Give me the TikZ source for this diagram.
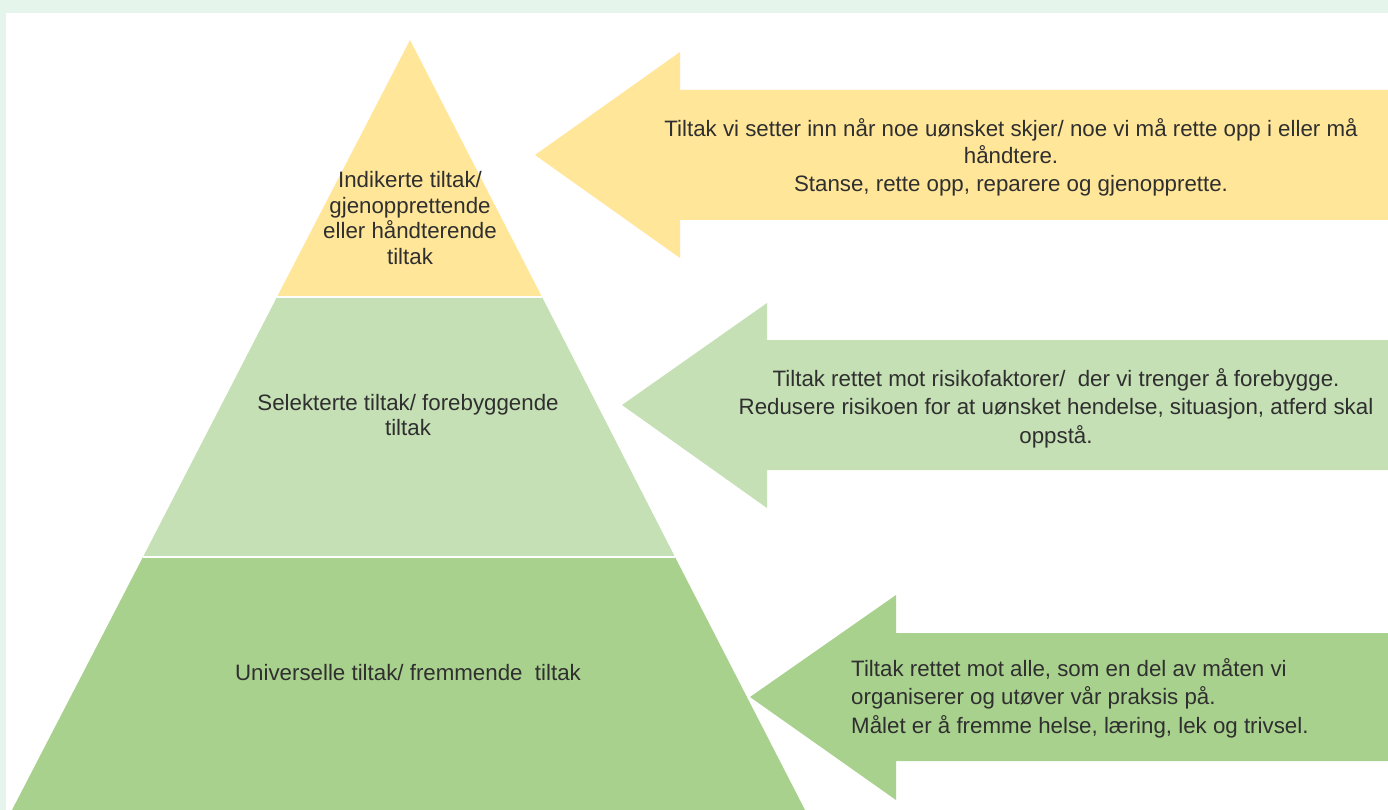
\documentclass[tikz,border=0pt]{standalone}
\usepackage{fontspec}
\setmainfont{Liberation Sans}
\definecolor{mint}{HTML}{E6F5EC}
\definecolor{tierA}{HTML}{FFE699}
\definecolor{tierB}{HTML}{C5E0B4}
\definecolor{tierC}{HTML}{A9D18E}
\definecolor{txt}{HTML}{2F2F2F}
\tikzset{
  lbl/.style={text=txt, font=\fontsize{22.3}{25.5}\selectfont, align=center, inner sep=0pt},
  lblL/.style={text=txt, font=\fontsize{22.3}{28.5}\selectfont, align=left, inner sep=0pt},
  tierline/.style={draw=white, line width=1.5pt, line join=miter},
}
\begin{document}
\begin{tikzpicture}[x=1pt,y=-1pt]
\useasboundingbox (0,0) rectangle (1388,810);
\fill[mint] (0,0) rectangle (1388,810);
\fill[white] (6,13) rectangle (1388,810);
% pyramid
\coordinate (apex) at (410,40);
\coordinate (l1) at (277,297); \coordinate (r1) at (542,297);
\coordinate (l2) at (143,557); \coordinate (r2) at (675,557);
\coordinate (l3) at (12,810);  \coordinate (r3) at (805,810);
\fill[tierC] (l2) -- (r2) -- (r3) -- (l3) -- cycle;
\fill[tierB] (l1) -- (r1) -- (r2) -- (l2) -- cycle;
\fill[tierA] (apex) -- (r1) -- (l1) -- cycle;
\draw[tierline] (l1) -- (r1);
\draw[tierline] (l2) -- (r2);
% arrows
\fill[tierA] (535,155) -- (680,52) -- (680,90) -- (1388,90) -- (1388,220) -- (680,220) -- (680,258) -- cycle;
\fill[tierB] (622,405) -- (767,303) -- (767,340) -- (1388,340) -- (1388,470) -- (767,470) -- (767,508) -- cycle;
\fill[tierC] (750,697) -- (896,595) -- (896,633) -- (1388,633) -- (1388,761) -- (896,761) -- (896,800) -- cycle;
% tier labels
\node[lbl] (tA) at (410,218) {Indikerte tiltak/\\gjenopprettende\\eller håndterende\\tiltak};
\node[lbl] (tB) at (408,415) {Selekterte tiltak/ forebyggende\\tiltak};
\node[lbl] (tC) at (408,673) {Universelle tiltak/ fremmende\ \ tiltak};
% arrow labels
\node[lbl, font=\fontsize{22.3}{27.5}\selectfont] (aA) at (1011,157) {Tiltak vi setter inn når noe uønsket skjer/ noe vi må rette opp i eller må\\håndtere.\\Stanse, rette opp, reparere og gjenopprette.};
\node[lbl, font=\fontsize{22.3}{28.5}\selectfont] (aB) at (1056,408) {Tiltak rettet mot risikofaktorer/\ \ der vi trenger å forebygge.\\Redusere risikoen for at uønsket hendelse, situasjon, atferd skal\\oppstå.};
\node[lblL, anchor=west] (aC) at (851,698) {Tiltak rettet mot alle, som en del av måten vi\\organiserer og utøver vår praksis på.\\Målet er å fremme helse, læring, lek og trivsel.};
\end{tikzpicture}
\end{document}
